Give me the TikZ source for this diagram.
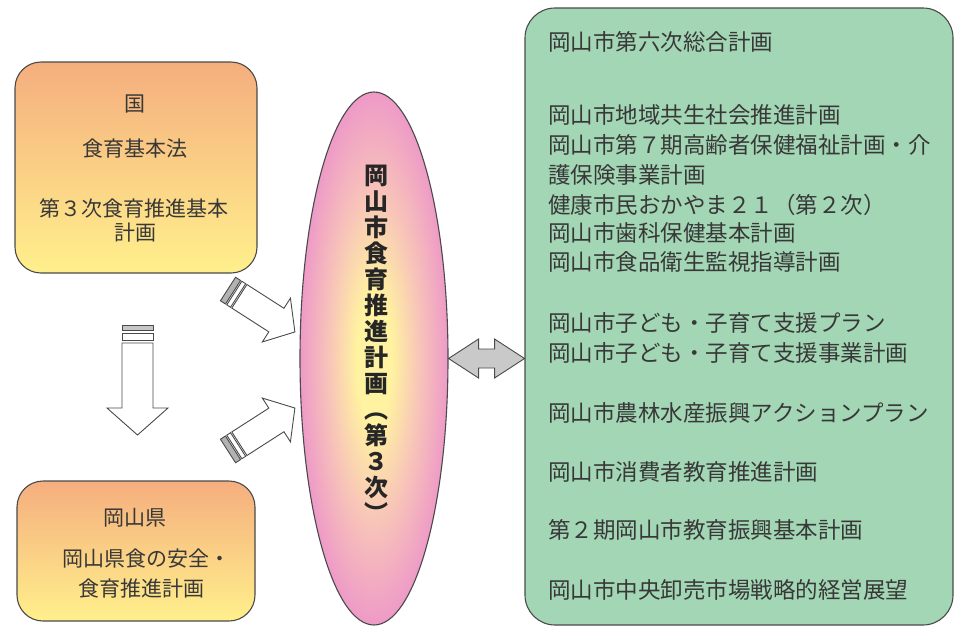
\documentclass[tikz,border=0pt]{standalone}
\usepackage{fontspec}
\newfontfamily\jp{Noto Sans CJK JP}
\usetikzlibrary{shapes.geometric}
\definecolor{txt}{HTML}{383838}
\definecolor{lineC}{HTML}{4A4A4A}
\definecolor{orangeTop}{HTML}{F5AE7E}
\definecolor{yellowBot}{HTML}{FFF08C}
\definecolor{greenF}{HTML}{A3D6B5}
\definecolor{pinkO}{HTML}{EE9AC7}
\definecolor{yellowC}{HTML}{FFF2A0}
\definecolor{peach}{HTML}{F8C6B8}
\definecolor{arrowG}{HTML}{C9C9C9}
\pgfdeclareradialshading{ellshade}{\pgfpoint{0bp}{0bp}}{color(0bp)=(yellowC); color(6bp)=(yellowC); color(15bp)=(peach); color(25bp)=(pinkO); color(50bp)=(pinkO)}
\begin{document}
\begin{tikzpicture}[x=1pt,y=-1pt,
  box/.style={draw=lineC, line width=1.1pt, rounded corners=26pt, inner sep=0pt},
  lefttxt/.style={font=\jp\fontsize{21}{24}\selectfont, text=txt, anchor=center, inner sep=0pt, text height=0.8em, text depth=0.05em},
  righttxt/.style={font=\jp\fontsize{22.5}{26}\selectfont, text=txt, anchor=west, inner sep=0pt, text height=0.8em, text depth=0.05em},
  vchar/.style={font=\jp\bfseries\fontsize{24}{26}\selectfont, text=black!85, anchor=center, inner sep=0pt, text height=0.8em, text depth=0.05em},
  blk/.style={draw=lineC, line width=0.9pt, fill=white, line join=miter},
  blkbar/.style={draw=lineC, line width=0.9pt, fill=gray!60},
]
\useasboundingbox (0,0) rectangle (958,627);
\fill[white] (0,0) rectangle (958,627);

% boxes
\node[box, minimum width=242pt, minimum height=211pt, top color=orangeTop, bottom color=yellowBot] (kuni) at (136,167.5) {};
\node[box, minimum width=238pt, minimum height=140pt, top color=orangeTop, bottom color=yellowBot] (ken) at (136,551) {};
\node[box, rounded corners=30pt, minimum width=428pt, minimum height=617pt, fill=greenF] (city) at (739,316.5) {};
\node[ellipse, draw=lineC, line width=1.1pt, shading=ellshade, minimum width=148pt, minimum height=533pt, inner sep=0pt] (ell) at (374,358.5) {};

% left texts
\node[lefttxt] (k1) at (135,108) {国};
\node[lefttxt] (k2) at (135,153) {食育基本法};
\node[lefttxt] (k3) at (134,213) {第３次食育推進基本};
\node[lefttxt] (k4) at (135,237) {計画};
\node[lefttxt] (p1) at (135,522) {岡山県};
\node[lefttxt] (p2) at (146,563) {岡山県食の安全・};
\node[lefttxt] (p3) at (141,593) {食育推進計画};

% vertical title
\foreach \c [count=\i] in {岡,山,市,食,育,推,進,計,画,︵,第,３,次,︶}{
  \node[vchar] (v\i) at (376,{181+(\i-1)*26}) {\c};
}

% right texts
\node[righttxt] (r1) at (548,47) {岡山市第六次総合計画};
\node[righttxt] (r2) at (548,120) {岡山市地域共生社会推進計画};
\node[righttxt] (r3) at (548,150) {岡山市第７期高齢者保健福祉計画・介};
\node[righttxt] (r4) at (548,180) {護保険事業計画};
\node[righttxt] (r5) at (548,210) {健康市民おかやま２１（第２次）};
\node[righttxt] (r6) at (548,238) {岡山市歯科保健基本計画};
\node[righttxt] (r7) at (548,267) {岡山市食品衛生監視指導計画};
\node[righttxt] (r8) at (548,328) {岡山市子ども・子育て支援プラン};
\node[righttxt] (r9) at (548,358) {岡山市子ども・子育て支援事業計画};
\node[righttxt] (r10) at (548,418) {岡山市農林水産振興アクションプラン};
\node[righttxt] (r11) at (548,477) {岡山市消費者教育推進計画};
\node[righttxt] (r12) at (548,535) {第２期岡山市教育振興基本計画};
\node[righttxt] (r13) at (548,595) {岡山市中央卸売市場戦略的経営展望};

% down arrow (kuni -> ken)
\begin{scope}[shift={(137.5,325)}, rotate=-90]
  \draw[blkbar, fill=gray!45] (0,-15.5) rectangle (5,15.5);
  \draw[blk] (8,-15.5) rectangle (15.5,15.5);
  \draw[blk] (18,-15.5) -- (83,-15.5) -- (83,-30.5) -- (110,0) -- (83,30.5) -- (83,15.5) -- (18,15.5) -- cycle;
\end{scope}

% upper diagonal arrow (kuni -> ell)
\begin{scope}[shift={(228,289)}, rotate=-32.7]
  \draw[blkbar] (0,-14) rectangle (6,14);
  \draw[blk] (7.5,-14) rectangle (12,14);
  \draw[blk] (13.5,-14) -- (57.5,-14) -- (57.5,-26) -- (79.5,0) -- (57.5,26) -- (57.5,14) -- (13.5,14) -- cycle;
\end{scope}

% lower diagonal arrow (ken -> ell)
\begin{scope}[shift={(228,451)}, rotate=32.7]
  \draw[blkbar] (0,-14) rectangle (6,14);
  \draw[blk] (7.5,-14) rectangle (12,14);
  \draw[blk] (13.5,-14) -- (57.5,-14) -- (57.5,-26) -- (79.5,0) -- (57.5,26) -- (57.5,14) -- (13.5,14) -- cycle;
\end{scope}

% double arrow (ell <-> city)
\begin{scope}[shift={(ell.east)}]
  \draw[draw=lineC, line width=0.9pt, fill=arrowG, line join=miter]
    (0,0) -- (30,-19.5) -- (30,-9.5) -- (46,-9.5) -- (46,-19.5) -- (76,0)
    -- (46,19.5) -- (46,9.5) -- (30,9.5) -- (30,19.5) -- cycle;
\end{scope}
\end{tikzpicture}
\end{document}
